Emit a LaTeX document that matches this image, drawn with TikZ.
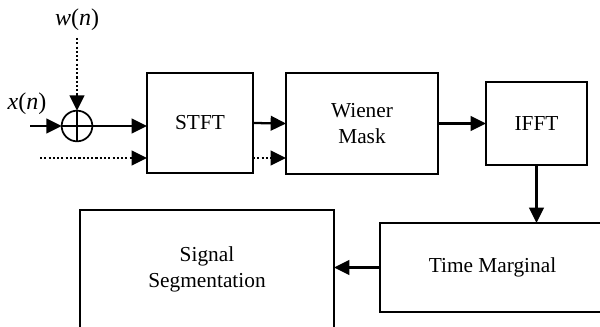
\documentclass[tikz,border=0pt]{standalone}
\usepackage{fontspec}
\setmainfont{Liberation Serif}
\usetikzlibrary{arrows.meta}

\begin{document}
\begin{tikzpicture}
        [x=0.75pt, y=-0.75pt, font=\fontsize{16}{19}\selectfont,
        block/.style={rectangle, draw, line width=1.5pt, inner sep=0pt, outer sep=0pt, align=center},
        sum/.style={circle, draw, line width=1.3pt, minimum size=23pt, inner sep=0pt, outer sep=0pt},
        sig/.style={font=\fontsize{18}{21}\selectfont},
        flow/.style={line width=1.7pt, -{Triangle[length=11.5pt, width=11pt]}},
        noise/.style={flow, dash pattern=on 1.6pt off 1.6pt}]

        \useasboundingbox (0,0) rectangle (600,327);

        \node[sum] (add) at (77,126) {};
        \node[sig] (x) at (27,104) {\textit{x}(\textit{n})};
        \node[sig] (w) at (77,20) {\textit{w}(\textit{n})};
        \node[block, minimum width=79.5pt, minimum height=75pt] (stft) at (200,123) {STFT};
        \node[block, minimum width=114pt, minimum height=75.75pt] (mask) at (362,123.5) {Wiener\\Mask};
        \node[block, minimum width=75.75pt, minimum height=62.25pt] (ifft) at (536.5,123.5) {IFFT};
        \node[block, minimum width=168.75pt, minimum height=66.75pt] (tm) at (492.5,267.5) {Time Marginal};
        \node[block, minimum width=190.5pt, minimum height=89pt] (seg) at (207,269.5) {Signal\\Segmentation};

        \coordinate (xin) at (30,126);
        \coordinate (win) at (77,38);
        \coordinate (nin) at (40,158);

        % cross inside the adder
        \draw[line width=1.3pt] (add.north) -- (add.south);
        \draw[line width=1.3pt] (add.west) -- (add.east);

        % signal path
        \draw[flow] (xin) -- (add.west);
        \draw[noise] (win) -- (add.north);
        \draw[flow] (add.east) -- (add.east -| stft.west);
        \draw[noise] (nin) -- (nin -| stft.west);
        \draw[flow] (stft.east) -- (mask.west);
        \draw[noise] (stft.east |- nin) -- (mask.west |- nin);
        \draw[flow] (mask.east) -- (mask.east -| ifft.west);
        \draw[flow] (ifft.south) -- (ifft.south |- tm.north);
        \draw[flow] (tm.west) -- (tm.west -| seg.east);

    \end{tikzpicture}
\end{document}
